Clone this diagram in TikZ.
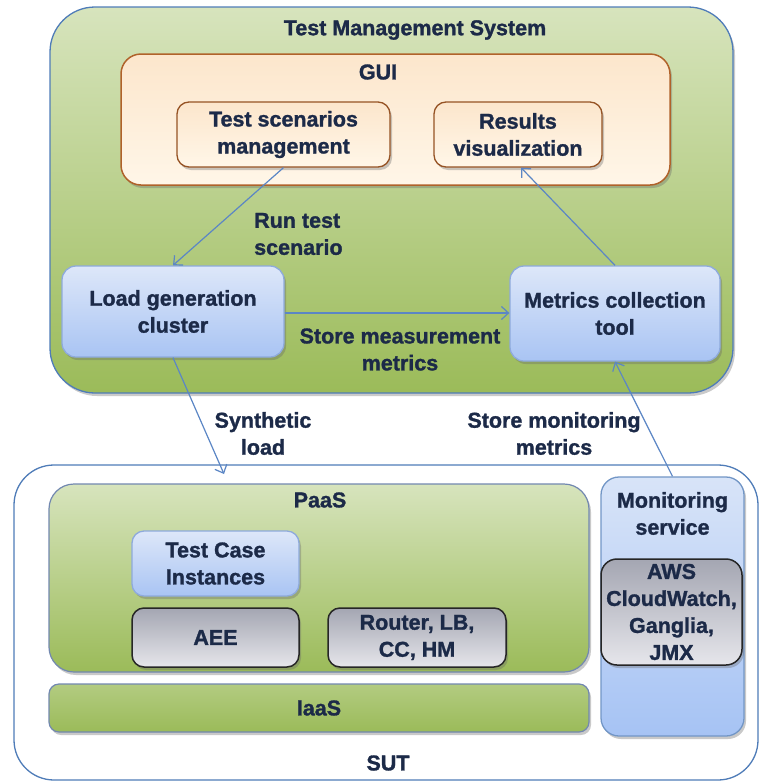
\documentclass[tikz,border=0pt]{standalone}
\usepackage{fontspec}
\setmainfont[BoldFeatures={FakeBold=1.3}]{Liberation Sans}
\usetikzlibrary{arrows.meta,shadows}
\definecolor{txt}{HTML}{1C2A48}
\definecolor{greenA}{HTML}{D7E4BD}
\definecolor{greenB}{HTML}{9BBB59}
\definecolor{blueLine}{HTML}{4F7CB8}
\definecolor{blueA}{HTML}{DDE7F9}
\definecolor{blueB}{HTML}{A9C4F3}
\definecolor{blueBorder}{HTML}{8EAADC}
\definecolor{grayA}{HTML}{A4A6B2}
\definecolor{grayB}{HTML}{E6E6EB}
\definecolor{creamA}{HTML}{FCE6CC}
\definecolor{creamB}{HTML}{FFF6E8}
\definecolor{brownLine}{HTML}{B0622A}
\definecolor{arrowCol}{HTML}{5B86C5}
\definecolor{monA}{HTML}{D8E4F8}
\definecolor{monB}{HTML}{A6C3F4}
\begin{document}
\begin{tikzpicture}[x=1pt,y=-1pt,
  every node/.style={font=\bfseries\fontsize{21.5}{27}\selectfont, text=txt, align=center, inner sep=0pt},
  shad/.style={drop shadow={shadow xshift=2pt, shadow yshift=-3pt, opacity=0.35, fill=black!60}},
  tmsbox/.style={draw=blueLine, line width=1.3pt, rounded corners=45pt, top color=greenA, middle color=greenB, bottom color=greenB, shad},
  guibox/.style={draw=brownLine, line width=1.5pt, rounded corners=20pt, top color=creamA, bottom color=creamB, shad},
  guiinner/.style={draw=brownLine!85!black, line width=1.3pt, rounded corners=12pt, top color=creamA, bottom color=creamB, shad},
  bluebox/.style={draw=blueBorder, line width=1.3pt, rounded corners=14pt, top color=blueA, bottom color=blueB, shad},
  graybox/.style={draw=black!85, line width=1.5pt, rounded corners=12pt, top color=grayA, bottom color=grayB, shad},
  sutbox/.style={draw=blueLine, line width=1.3pt, rounded corners=40pt, fill=white},
  paasbox/.style={draw=blueBorder!80!black, line width=1.2pt, rounded corners=25pt, top color=greenA, middle color=greenB!85!greenA, bottom color=greenB, shad},
  iaasbox/.style={draw=blueBorder!80!black, line width=1.2pt, rounded corners=10pt, top color=greenB!60!greenA, bottom color=greenB, shad},
  monbox/.style={draw=blueLine!80, line width=1.3pt, rounded corners=18pt, top color=monA, bottom color=monB, shad},
  arr/.style={draw=arrowCol, line width=1.2pt, -{Straight Barb[length=7pt,width=13pt]}},
  lbl/.style={}
]
\useasboundingbox (0,0) rectangle (765,782);

% Test Management System
\node[tmsbox, minimum width=683pt, minimum height=386pt] (tms) at (391.5,200) {};
\node[lbl] (tmst) at (415,30) {Test Management System};
\node[guibox, minimum width=549pt, minimum height=131pt] (gui) at (395.5,119.5) {};
\node[lbl] (guit) at (378,72) {GUI};
\node[guiinner, minimum width=213pt, minimum height=65pt] (tsm) at (283.5,134.5) {Test scenarios\\management};
\node[guiinner, minimum width=168pt, minimum height=65pt] (rv) at (518,134.5) {Results\\visualization};
\node[bluebox, minimum width=222pt, minimum height=91pt] (lg) at (173,311.5) {Load generation\\cluster};
\node[bluebox, minimum width=210pt, minimum height=95pt] (mc) at (615,313.5) {Metrics collection\\tool};
\node[lbl, align=left, anchor=west] (runl) at (254,234) {Run test\\scenario};
\node[lbl] (sml) at (400,349.5) {Store measurement\\metrics};

% SUT
\node[sutbox, minimum width=744pt, minimum height=315pt] (sut) at (386,622.5) {};
\node[lbl] (sutt) at (388,763) {SUT};
\node[paasbox, minimum width=540pt, minimum height=188pt] (paas) at (319,578) {};
\node[lbl] (paast) at (320,500) {PaaS};
\node[bluebox, rounded corners=12pt, minimum width=167pt, minimum height=65pt] (tci) at (215.5,563.5) {Test Case\\Instances};
\node[graybox, minimum width=167pt, minimum height=59pt] (aee) at (215.5,637.5) {AEE};
\node[graybox, minimum width=178pt, minimum height=59pt] (rtr) at (417,637.5) {Router, LB,\\CC, HM};
\node[iaasbox, minimum width=540pt, minimum height=48pt] (iaas) at (319,708) {IaaS};
\node[monbox, minimum width=143pt, minimum height=259pt] (mon) at (672.5,606.5) {};
\node[lbl] (mont) at (672.5,513.5) {Monitoring\\service};
\node[graybox, rounded corners=16pt, minimum width=141pt, minimum height=106pt] (aws) at (671.5,612) {AWS\\CloudWatch,\\Ganglia,\\JMX};

\node[lbl] (synl) at (263,433.5) {Synthetic\\load};
\node[lbl] (smonl) at (554,433.5) {Store monitoring\\metrics};

% connectors
\coordinate (synend) at (224,474);
\draw[arr] (tsm.south) -- (lg.north);
\draw[arr] (mc.north) -- ([xshift=3pt]rv.south);
\draw[arr] (lg.east |- 0,313) -- (mc.west |- 0,313);
\draw[arr] (lg.south) -- (synend);
\draw[arr] (mon.north) -- (mc.south);
\end{tikzpicture}
\end{document}
